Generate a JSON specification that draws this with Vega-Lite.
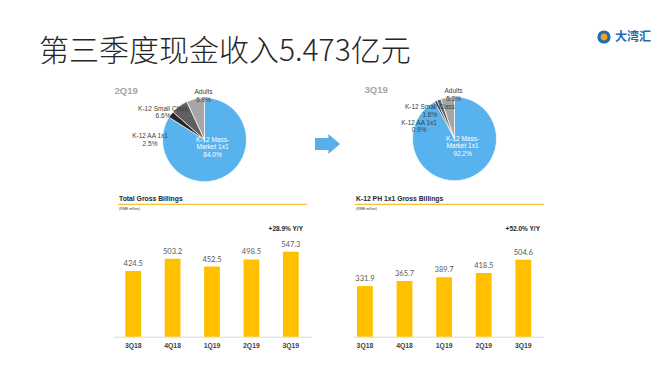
{
"$schema":"https://vega.github.io/schema/vega-lite/v6.json",
"width":660,"height":371,"autosize":{"type":"none"},"padding":0,"background":"white",
"title":{"text":"第三季度现金收入5.473亿元","anchor":"start","frame":"group","orient":"top","offset":0,"dx":39,"dy":91,"baseline":"alphabetic","fontSize":30,"font":"Noto Sans CJK SC","fontWeight":300,"color":"#262626"},
"config":{"view":{"stroke":null},"text":{"font":"Liberation Sans"}},
"datasets":{
"pie":[
{"quarter":"2Q19","segment":"K-12 Mass-Market 1x1","share":0.840,"ord":1,"label":"K-12 Mass-\nMarket 1x1\n84.0%"},
{"quarter":"2Q19","segment":"K-12 AA 1x1","share":0.025,"ord":2,"label":"K-12 AA 1x1\n2.5%"},
{"quarter":"2Q19","segment":"K-12 Small Class","share":0.066,"ord":3,"label":"K-12 Small Class\n6.6%"},
{"quarter":"2Q19","segment":"Adults","share":0.069,"ord":4,"label":"Adults\n6.9%"},
{"quarter":"3Q19","segment":"K-12 Mass-Market 1x1","share":0.922,"ord":1,"label":"K-12 Mass-\nMarket 1x1\n92.2%"},
{"quarter":"3Q19","segment":"K-12 AA 1x1","share":0.009,"ord":2,"label":"K-12 AA 1x1\n0.9%"},
{"quarter":"3Q19","segment":"K-12 Small Class","share":0.016,"ord":3,"label":"K-12 Small Class\n1.6%"},
{"quarter":"3Q19","segment":"Adults","share":0.053,"ord":4,"label":"Adults\n5.3%"}
],
"quarters":[{"quarter":"2Q19"},{"quarter":"3Q19"}],
"bars":[
{"chart":"total","quarter":"3Q18","value":424.5},
{"chart":"total","quarter":"4Q18","value":503.2},
{"chart":"total","quarter":"1Q19","value":452.5},
{"chart":"total","quarter":"2Q19","value":498.5},
{"chart":"total","quarter":"3Q19","value":547.3},
{"chart":"ph","quarter":"3Q18","value":331.9},
{"chart":"ph","quarter":"4Q18","value":365.7},
{"chart":"ph","quarter":"1Q19","value":389.7},
{"chart":"ph","quarter":"2Q19","value":418.5},
{"chart":"ph","quarter":"3Q19","value":504.6}
],
"heads":[
{"chart":"total","title":"Total Gross Billings","unit":"(RMB million)","yoy":"+28.9% Y/Y"},
{"chart":"ph","title":"K-12 PH 1x1 Gross Billings","unit":"(RMB million)","yoy":"+52.0% Y/Y"}
]
},
"layer":[
{
"data":{"values":[{"brand":"大湾汇"}]},
"mark":{"type":"point","filled":true,"opacity":0},
"encoding":{"color":{"field":"brand","type":"nominal","scale":{"range":["#f4a21f"]},
"legend":{"orient":"none","legendX":597,"legendY":30,"title":null,"symbolType":"circle","symbolSize":100,"symbolStrokeWidth":3.2,"symbolStrokeColor":"#1b6db5","symbolOpacity":1,"labelFontSize":12,"labelFont":"Noto Sans CJK SC","labelFontWeight":"bold","labelColor":"#1b6db5","labelOffset":4}}}
},
{
"encoding":{
"x":{"field":"quarter","type":"nominal","scale":{"type":"point","domain":["2Q19","3Q19"],"range":[204.5,454.5],"padding":0},"axis":null},
"y":{"field":"quarter","type":"nominal","scale":{"type":"point","domain":["2Q19","3Q19"],"range":[139.7,138.7],"padding":0},"axis":null}
},
"layer":[
{"data":{"name":"pie"},"transform":[{"filter":"datum.quarter == '2Q19'"}],
"mark":{"type":"arc","radius":42,"stroke":"white","strokeWidth":0.7},
"encoding":{"theta":{"field":"share","type":"quantitative","stack":true},"order":{"field":"ord","type":"quantitative"},
"color":{"field":"segment","type":"nominal","scale":{"domain":["K-12 Mass-Market 1x1","K-12 AA 1x1","K-12 Small Class","Adults"],"range":["#58b2ee","#262626","#5f5f5f","#a6a6a6"]},"legend":null}}},
{"data":{"name":"pie"},"transform":[{"filter":"datum.quarter == '3Q19'"}],
"mark":{"type":"arc","radius":42,"stroke":"white","strokeWidth":0.7},
"encoding":{"theta":{"field":"share","type":"quantitative","stack":true},"order":{"field":"ord","type":"quantitative"},
"color":{"field":"segment","type":"nominal","scale":{"domain":["K-12 Mass-Market 1x1","K-12 AA 1x1","K-12 Small Class","Adults"],"range":["#58b2ee","#262626","#5f5f5f","#a6a6a6"]},"legend":null}}},
{"data":{"name":"quarters"},
"mark":{"type":"text","align":"left","baseline":"middle","dx":-90,"dy":-49,"fontSize":9.5,"fontWeight":"bold","color":"#a6a6a6"},
"encoding":{"text":{"field":"quarter","type":"nominal"}}},
{"data":{"values":[{"from":"2Q19","to":"3Q19"}]},
"mark":{"type":"point","shape":"M -1 -0.48 L 0.07 -0.48 L 0.07 -0.8 L 1 0 L 0.07 0.8 L 0.07 0.48 L -1 0.48 Z","size":625,"filled":true,"color":"#5aaeeb","opacity":1,"xOffset":123,"yOffset":4.3},
"encoding":{"x":{"field":"from","type":"nominal","axis":null},"y":{"field":"from","type":"nominal","axis":null}}},
{"data":{"name":"pie"},"transform":[{"filter":"datum.segment == 'Adults'"}],
"mark":{"type":"text","radius":47.6,"theta":-0.02,"align":"center","baseline":"middle","fontSize":6.5,"lineBreak":"\n","lineHeight":7.5,"color":"#404040"},
"encoding":{"text":{"field":"label","type":"nominal"}}},
{"data":{"name":"pie"},"transform":[{"filter":"datum.segment == 'K-12 Mass-Market 1x1'"}],
"mark":{"type":"text","radius":8,"theta":1.6,"align":"center","baseline":"middle","fontSize":6.5,"lineBreak":"\n","lineHeight":7.5,"color":"white"},
"encoding":{"text":{"field":"label","type":"nominal"}}},
{"data":{"name":"pie"},"transform":[{"filter":"datum.segment == 'K-12 Small Class' && datum.quarter == '2Q19'"}],
"mark":{"type":"text","radius":51.9,"theta":-0.926,"align":"center","baseline":"middle","fontSize":6.5,"lineBreak":"\n","lineHeight":7.5,"color":"#404040"},
"encoding":{"text":{"field":"label","type":"nominal"}}},
{"data":{"name":"pie"},"transform":[{"filter":"datum.segment == 'K-12 Small Class' && datum.quarter == '3Q19'"}],
"mark":{"type":"text","radius":39.8,"theta":-0.669,"align":"center","baseline":"middle","fontSize":6.5,"lineBreak":"\n","lineHeight":7.5,"color":"#404040"},
"encoding":{"text":{"field":"label","type":"nominal"}}},
{"data":{"name":"pie"},"transform":[{"filter":"datum.segment == 'K-12 AA 1x1' && datum.quarter == '2Q19'"}],
"mark":{"type":"text","radius":54.6,"theta":-1.503,"align":"center","baseline":"middle","fontSize":6.5,"lineBreak":"\n","lineHeight":7.5,"color":"#404040"},
"encoding":{"text":{"field":"label","type":"nominal"}}},
{"data":{"name":"pie"},"transform":[{"filter":"datum.segment == 'K-12 AA 1x1' && datum.quarter == '3Q19'"}],
"mark":{"type":"text","radius":38.9,"theta":-1.147,"align":"center","baseline":"middle","fontSize":6.5,"lineBreak":"\n","lineHeight":7.5,"color":"#404040"},
"encoding":{"text":{"field":"label","type":"nominal"}}}
]
},
{
"data":{"name":"heads"},
"encoding":{
"x":{"field":"chart","type":"nominal","scale":{"type":"point","domain":["total","ph"],"range":[119,356],"padding":0},"axis":null},
"y":{"field":"chart","type":"nominal","scale":{"type":"point","domain":["total","ph"],"range":[199,199],"padding":0},"axis":null}
},
"layer":[
{"mark":{"type":"rule","color":"#f5b000","strokeWidth":1,"xOffset":-1,"x2Offset":188,"yOffset":5.3},
"encoding":{"x2":{"field":"chart"}}},
{"mark":{"type":"text","align":"left","baseline":"middle","fontSize":6.8,"fontWeight":"bold","color":"#262626"},
"encoding":{"text":{"field":"title","type":"nominal"}}},
{"mark":{"type":"text","align":"left","baseline":"middle","dy":10.3,"fontSize":3.5,"color":"#404040"},
"encoding":{"text":{"field":"unit","type":"nominal"}}},
{"mark":{"type":"text","align":"right","baseline":"middle","dx":184,"dy":29.5,"fontSize":6.5,"fontWeight":"bold","color":"#262626"},
"encoding":{"text":{"field":"yoy","type":"nominal"}}}
]
},
{
"data":{"name":"bars"},
"transform":[{"filter":"datum.chart == 'total'"}],
"encoding":{
"x":{"field":"quarter","type":"ordinal","scale":{"domain":["3Q18","4Q18","1Q19","2Q19","3Q19"],"range":[113,311],"paddingInner":0.6,"paddingOuter":0.3125},
"axis":{"orient":"bottom","offset":-34.3,"title":null,"grid":false,"ticks":false,"tickSize":0,"labelAngle":0,"labelPadding":6,"labelFontSize":6.8,"labelFontWeight":"bold","labelColor":"#404040","labelFont":"Liberation Sans","domainColor":"#d9d9d9","domainWidth":1}},
"y":{"field":"value","type":"quantitative","scale":{"domain":[0,1000],"range":[336.7,181.7],"nice":false},"axis":null}
},
"layer":[
{"mark":{"type":"bar","color":"#ffc000"}},
{"mark":{"type":"text","dy":-5,"baseline":"alphabetic","fontSize":7.5,"font":"Lato","color":"#595959"},"encoding":{"text":{"field":"value","type":"quantitative","format":".1f"}}}
]
},
{
"data":{"name":"bars"},
"transform":[{"filter":"datum.chart == 'ph'"}],
"encoding":{
"x":{"field":"quarter","type":"ordinal","scale":{"domain":["3Q18","4Q18","1Q19","2Q19","3Q19"],"range":[353.3,543.3],"paddingInner":0.6,"paddingOuter":0.199,"align":0.235},
"axis":{"orient":"bottom","offset":-34.3,"title":null,"grid":false,"ticks":false,"tickSize":0,"labelAngle":0,"labelPadding":6,"labelFontSize":6.8,"labelFontWeight":"bold","labelColor":"#404040","labelFont":"Liberation Sans","domainColor":"#d9d9d9","domainWidth":1}},
"y":{"field":"value","type":"quantitative","scale":{"domain":[0,1000],"range":[336.7,184.2],"nice":false},"axis":null}
},
"layer":[
{"mark":{"type":"bar","color":"#ffc000"}},
{"mark":{"type":"text","dy":-5,"baseline":"alphabetic","fontSize":7.5,"font":"Lato","color":"#595959"},"encoding":{"text":{"field":"value","type":"quantitative","format":".1f"}}}
]
}
],
"resolve":{"scale":{"x":"independent","y":"independent","color":"independent","theta":"independent"},"axis":{"x":"independent","y":"independent"},"legend":{"color":"independent"}}
}
